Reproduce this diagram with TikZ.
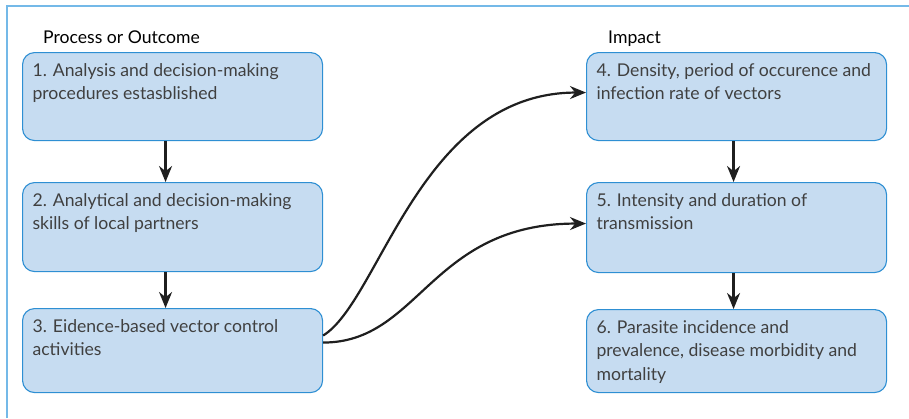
\documentclass[tikz,border=0pt]{standalone}
\usepackage{fontspec}
\setmainfont{Lato}
\usetikzlibrary{arrows.meta}
\definecolor{boxfill}{HTML}{C6DCF1}
\definecolor{boxline}{HTML}{2E8FD3}
\definecolor{framecol}{HTML}{74B9E8}
\definecolor{txtgray}{HTML}{404040}
\newcommand{\boxtxt}[2]{\parbox[t][#1][t]{280pt}{\raggedright\strut #2}}
\tikzset{
  stepbox/.style={draw=boxline, fill=boxfill, line width=1.1pt, rounded corners=12pt,
    anchor=north west, inner xsep=10pt, inner ysep=7pt, text=txtgray,
    font=\fontsize{17.6}{23.5}\selectfont},
  head/.style={anchor=base west, inner sep=0pt, font=\fontsize{17.6}{20}\selectfont, text=black},
  conn/.style={line width=2.2pt, draw=black!88, -{Stealth[length=16pt,width=13pt]}},
}
\begin{document}
\begin{tikzpicture}[x=1pt,y=-1pt]
\useasboundingbox (0,0) rectangle (909,418);
\draw[framecol, line width=2pt] (7,418) -- (7,6) -- (909,6);
\node[head] (h1) at (43,43) {Process or Outcome};
\node[head] (h2) at (608,43) {Impact};
\node[stepbox] (b1) at (22,52) {\boxtxt{74pt}{1. Analysis and decision-making\\ procedures estasblished}};
\node[stepbox] (b2) at (22,182) {\boxtxt{75pt}{2. Analytical and decision-making\\ skills of local partners}};
\node[stepbox] (b3) at (22,308) {\boxtxt{70pt}{3. Eidence-based vector control\\ activities}};
\node[stepbox] (b4) at (586,52) {\boxtxt{74pt}{4. Density, period of occurence and\\ infection rate of vectors}};
\node[stepbox] (b5) at (586,182) {\boxtxt{76pt}{5. Intensity and duration of\\ transmission}};
\node[stepbox] (b6) at (586,309) {\boxtxt{69pt}{6. Parasite incidence and\\ prevalence, disease morbidity and\\ mortality}};
\draw[conn] ([xshift=-7pt]b1.south) -- ([xshift=-7pt]b2.north);
\draw[conn] ([xshift=-7pt]b2.south) -- ([xshift=-7pt]b3.north);
\draw[conn] ([xshift=-3pt]b4.south) -- ([xshift=-3pt]b5.north);
\draw[conn] ([xshift=-3pt]b5.south) -- ([xshift=-3pt]b6.north);
\draw[conn] ([yshift=15pt]b3.east) .. controls +(57,-35) and +(-166,0) .. ([yshift=4pt]b4.west);
\draw[conn] ([yshift=8pt]b3.east) .. controls +(97,0) and +(-156,0) .. ([yshift=4pt]b5.west);
\end{tikzpicture}
\end{document}
